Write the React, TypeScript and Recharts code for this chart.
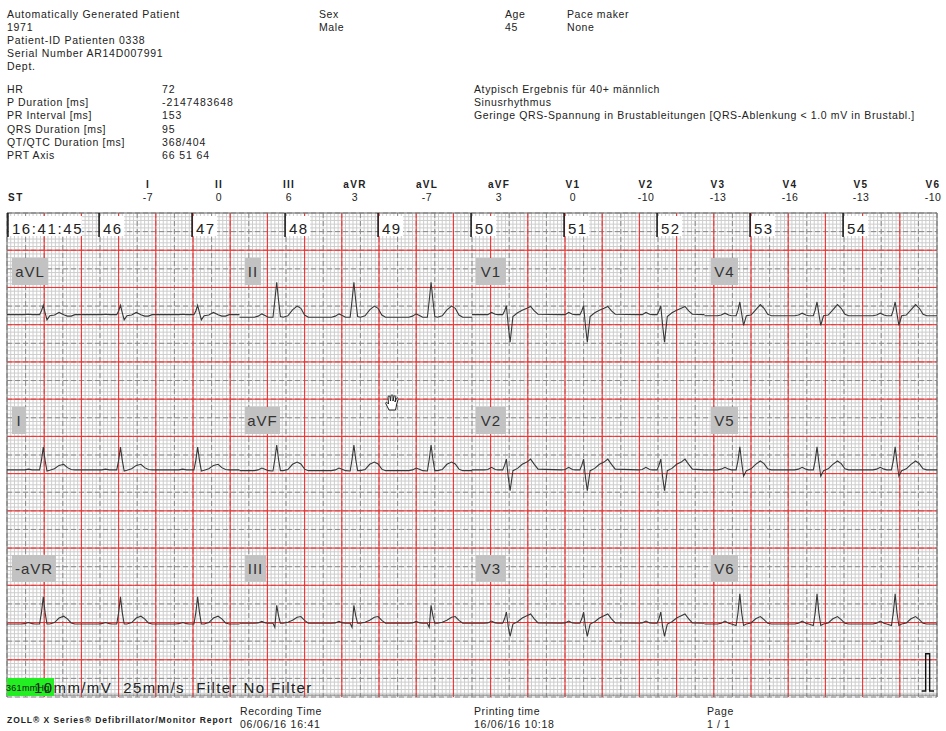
import { LineChart, Line, XAxis, YAxis, CartesianGrid } from "recharts";

// sample offsets around each R peak, seconds
const beatOffsets = [-0.24, -0.2, -0.16, -0.12, -0.09, -0.04, -0.02, 0, 0.02, 0.04, 0.07, 0.12, 0.17, 0.22, 0.26, 0.3, 0.34];

const aVLBeat = [0, 0, 0.01, 0, 0, 0, 0.1, 0.25, 0.05, -0.14, -0.03, -0.01, 0.06, 0, -0.04, -0.04, 0];
const IIBeat = [0, 0.03, 0.09, 0.04, 0, 0, 0.45, 0.94, 0.45, 0.02, 0, 0.04, 0.2, 0.3, 0.24, 0.06, 0];
const V1Beat = [0, 0, 0.06, 0.01, 0, 0, 0.1, 0.24, -0.3, -0.74, -0.05, 0.05, 0.12, 0.17, 0.22, 0.1, 0.01];
const V4Beat = [0, 0.02, 0.07, 0.02, 0, 0, 0.15, 0.37, 0.05, -0.26, 0, 0.02, 0.16, 0.3, 0.2, 0.04, 0];
const IBeat = [0, 0, 0.02, 0, 0, 0, 0.25, 0.61, 0.25, -0.03, -0.01, 0.03, 0.12, 0.15, 0.06, 0.01, 0];
const aVFBeat = [0, 0.02, 0.07, 0.03, 0, -0.01, 0.3, 0.69, 0.3, 0, 0, 0.03, 0.17, 0.23, 0.18, 0.04, 0];
const V2Beat = [0, 0.01, 0.07, 0.01, 0, 0, 0.12, 0.29, -0.2, -0.56, -0.02, 0.04, 0.15, 0.21, 0.29, 0.15, 0.02];
const V5Beat = [0, 0.02, 0.07, 0.02, 0, 0, 0.25, 0.62, 0.2, -0.17, -0.02, 0.03, 0.15, 0.24, 0.17, 0.03, 0];
const minusAVRBeat = [0, 0.01, 0.04, 0.01, 0, 0, 0.3, 0.73, 0.3, 0, 0, 0.04, 0.16, 0.21, 0.14, 0.03, 0];
const IIIBeat = [0, 0.01, 0.05, 0.01, 0, 0, -0.11, 0.48, 0.2, 0, 0, 0.03, 0.08, 0.16, 0.18, 0.08, 0];
const V3Beat = [0, 0.01, 0.06, 0.01, 0, 0, 0.12, 0.3, -0.1, -0.35, -0.02, 0.04, 0.14, 0.2, 0.25, 0.12, 0.01];
const V6Beat = [0, 0.02, 0.08, 0.02, 0, -0.04, 0.3, 0.81, 0.3, -0.04, 0, 0.03, 0.14, 0.2, 0.12, 0.02, 0];

// R peak times per column, seconds from strip start
const column1Beats = [0.39, 1.22, 2.05];
const column2Beats = [2.9, 3.73, 4.56];
const column3Beats = [5.37, 6.2, 7.03];
const column4Beats = [7.88, 8.71, 9.55];
const columnStarts = [0, 2.5, 5, 7.5, 10];

// isoelectric level of each lead on the page, mV above the strip bottom
const row1Levels = [10.27, 10.2, 10.27, 10.24];
const row2Levels = [6.1, 6.08, 6.1, 6.1];
const row3Levels = [1.96, 1.98, 1.98, 1.96];

// calibration pulse
const calTimes = [9.835, 9.878, 9.878, 9.921, 9.921, 9.968];
const calValues = [0.16, 0.16, 1.16, 1.16, 0.16, 0.16];

const secondTicks = [0.01, 0.99, 1.99, 2.99, 3.99, 4.99, 5.99, 6.99, 7.99, 8.99];
const secondLabels = ["16:41:45", "46", "47", "48", "49", "50", "51", "52", "53", "54"];

const stLeads = ["I", "II", "III", "aVR", "aVL", "aVF", "V1", "V2", "V3", "V4", "V5", "V6"];
const stValues = ["-7", "0", "6", "3", "-7", "3", "0", "-10", "-13", "-16", "-13", "-10"];
const stCenters = [148, 219, 289, 355, 427, 499, 573, 646, 718, 790, 861, 933];

const patientLines = [
  "Automatically Generated Patient",
  "1971",
  "Patient-ID Patienten 0338",
  "Serial Number AR14D007991",
  "Dept.",
];
const measureNames = ["HR", "P Duration [ms]", "PR Interval [ms]", "QRS Duration [ms]", "QT/QTC Duration [ms]", "PRT Axis"];
const measureValues = ["72", "-2147483648", "153", "95", "368/404", "66 51 64"];
const findings = [
  "Atypisch Ergebnis für 40+ männlich",
  "Sinusrhythmus",
  "Geringe QRS-Spannung in Brustableitungen [QRS-Ablenkung < 1.0 mV in Brustabl.]",
];

const leads = [
  { name: "aVL", beat: aVLBeat, times: column1Beats, col: 0, level: row1Levels[0], box: [12, 258, 36] },
  { name: "II", beat: IIBeat, times: column2Beats, col: 1, level: row1Levels[1], box: [245, 258, 16] },
  { name: "V1", beat: V1Beat, times: column3Beats, col: 2, level: row1Levels[2], box: [476, 258, 30] },
  { name: "V4", beat: V4Beat, times: column4Beats, col: 3, level: row1Levels[3], box: [711, 258, 27] },
  { name: "I", beat: IBeat, times: column1Beats, col: 0, level: row2Levels[0], box: [12, 407, 14] },
  { name: "aVF", beat: aVFBeat, times: column2Beats, col: 1, level: row2Levels[1], box: [245, 407, 35] },
  { name: "V2", beat: V2Beat, times: column3Beats, col: 2, level: row2Levels[2], box: [476, 407, 30] },
  { name: "V5", beat: V5Beat, times: column4Beats, col: 3, level: row2Levels[3], box: [711, 407, 27] },
  { name: "-aVR", beat: minusAVRBeat, times: column1Beats, col: 0, level: row3Levels[0], box: [12, 555, 44] },
  { name: "III", beat: IIIBeat, times: column2Beats, col: 1, level: row3Levels[1], box: [245, 555, 21] },
  { name: "V3", beat: V3Beat, times: column3Beats, col: 2, level: row3Levels[2], box: [476, 555, 30] },
  { name: "V6", beat: V6Beat, times: column4Beats, col: 3, level: row3Levels[3], box: [711, 555, 27] },
];

function buildTrace(lead: (typeof leads)[number]) {
  const points = [{ t: columnStarts[lead.col], v: lead.level }];
  lead.times.forEach((rTime) => {
    beatOffsets.forEach((offset, i) => {
      points.push({ t: rTime + offset, v: lead.level + lead.beat[i] });
    });
  });
  points.push({ t: columnStarts[lead.col + 1], v: lead.level });
  return points;
}

const calTrace = calTimes.map((t, i) => ({ t, v: calValues[i] }));

// paper grid: 1 mm = 0.04 s = 0.1 mV
const steps = (count: number, size: number) => Array.from({ length: count + 1 }, (_, i) => +(i * size).toFixed(2));

// the default grid generators drop close ticks, so place the lines from the plot offset
const xGrid = (values: number[]) => ({ offset }: any) => values.map((v) => offset.left + (v / 10) * offset.width);
const yGrid = (values: number[]) => ({ offset }: any) => values.map((v) => offset.top + (1 - v / 13) * offset.height);

const arial = "'Liberation Sans', Arial, sans-serif";

function Txt({ x, y, children, style }: { x: number; y: number; children: React.ReactNode; style?: React.CSSProperties }) {
  return (
    <div
      style={{
        position: "absolute",
        left: x,
        top: y,
        fontFamily: arial,
        fontSize: 10.5,
        lineHeight: "13px",
        letterSpacing: 0.6,
        color: "#222",
        whiteSpace: "pre",
        ...style,
      }}
    >
      {children}
    </div>
  );
}

function SecondTick({ x, index }: any) {
  const label = secondLabels[index];
  const w = index === 0 ? 73 : 24;
  return (
    <g>
      <rect x={x + 1} y={216} width={w} height={20} fill="#fff" />
      <line x1={x} x2={x} y1={213} y2={237} stroke="#111" strokeWidth={1.5} />
      <text x={x + 4} y={234} fontFamily={arial} fontSize={15} letterSpacing={index === 0 ? 1.6 : 1.4} fill="#222">
        {label}
      </text>
    </g>
  );
}

function HandCursor() {
  return (
    <svg width={16} height={18} viewBox="0 0 16 18" style={{ position: "absolute", left: 384, top: 394 }}>
      <path
        d="M5 16 L2 10 C1 8 3 8 4 9.5 L4.5 10 L4 3 C4 1.5 6 1.5 6 3 L6.5 7 L7 1.8 C7 0.5 9 0.5 9 1.8 L9 7 L10 2.5 C10.2 1.3 12 1.5 11.8 3 L11 8 L12.5 4.5 C13 3.5 14.5 4 14 5.5 L12.5 11 C12 13 12 14.5 11.5 16 Z"
        fill="#fff"
        stroke="#222"
        strokeWidth={1}
      />
    </svg>
  );
}

export default function App() {
  return (
    <div style={{ position: "absolute", left: 0, top: 0, width: 946, height: 731, background: "#fff", overflow: "hidden" }}>
      {patientLines.map((line, i) => (
        <Txt key={line} x={7} y={8 + i * 13.1} style={{ letterSpacing: 0.72 }}>
          {line}
        </Txt>
      ))}
      <Txt x={319} y={8}>Sex</Txt>
      <Txt x={319} y={21}>Male</Txt>
      <Txt x={505} y={8}>Age</Txt>
      <Txt x={505} y={21}>45</Txt>
      <Txt x={567} y={8}>Pace maker</Txt>
      <Txt x={567} y={21}>None</Txt>

      {measureNames.map((name, i) => (
        <Txt key={name} x={7} y={83 + i * 13.2} style={{ letterSpacing: 0.65 }}>
          {name}
        </Txt>
      ))}
      {measureValues.map((value, i) => (
        <Txt key={value} x={162} y={83 + i * 13.2} style={{ letterSpacing: 0.9 }}>
          {value}
        </Txt>
      ))}
      {findings.map((line, i) => (
        <Txt key={line} x={474} y={83 + i * 13.2} style={{ letterSpacing: 0.62 }}>
          {line}
        </Txt>
      ))}

      <Txt x={8} y={191} style={{ fontWeight: 700, fontSize: 10, letterSpacing: 1.5 }}>ST</Txt>
      {stLeads.map((lead, i) => (
        <div key={lead} style={{ position: "absolute", left: stCenters[i] - 25, width: 50, top: 178, textAlign: "center" }}>
          <div style={{ fontFamily: arial, fontWeight: 700, fontSize: 10, lineHeight: "13px", letterSpacing: 1.3, color: "#222" }}>{lead}</div>
          <div style={{ fontFamily: arial, fontSize: 10.5, lineHeight: "13px", letterSpacing: 0.5, color: "#222" }}>{stValues[i]}</div>
        </div>
      ))}

      <div style={{ position: "absolute", left: 0, top: 0 }}>
        <LineChart width={946} height={731} margin={{ top: 213, right: 9, bottom: 34, left: 7 }}>
          <CartesianGrid
            stroke="#cdcdcd"
            strokeWidth={1}
            horizontalCoordinatesGenerator={yGrid(steps(130, 0.1))}
            verticalCoordinatesGenerator={xGrid(steps(250, 0.04))}
          />
          <CartesianGrid
            stroke="#8a8a8a"
            strokeWidth={1}
            strokeDasharray="5 3"
            horizontalCoordinatesGenerator={yGrid(steps(26, 0.5))}
            verticalCoordinatesGenerator={xGrid(steps(50, 0.2))}
          />
          <CartesianGrid
            stroke="#ff2a2a"
            strokeWidth={1}
            horizontalCoordinatesGenerator={yGrid(steps(12, 1).slice(1))}
            verticalCoordinatesGenerator={xGrid(steps(25, 0.4).slice(1, -1))}
          />
          <CartesianGrid
            stroke="#777"
            strokeWidth={1}
            horizontalCoordinatesGenerator={yGrid([0.05, 13])}
            verticalCoordinatesGenerator={xGrid([0, 10])}
          />
          <XAxis
            xAxisId={0}
            dataKey="t"
            type="number"
            domain={[0, 10]}
            orientation="top"
            mirror
            ticks={secondTicks}
            interval={0}
            axisLine={false}
            tickLine={false}
            tick={<SecondTick />}
          />
          <YAxis dataKey="v" type="number" domain={[0, 13]} hide />
          {leads.map((lead) => (
            <Line
              key={lead.name}
              data={buildTrace(lead)}
              dataKey="v"
              type="linear"
              stroke="#383838"
              strokeWidth={1.1}
              dot={false}
              isAnimationActive={false}
            />
          ))}
          <Line data={calTrace} dataKey="v" type="linear" stroke="#111" strokeWidth={1.4} dot={false} isAnimationActive={false} />
        </LineChart>
      </div>

      {leads.map((lead) => (
        <div
          key={lead.name}
          style={{
            position: "absolute",
            left: lead.box[0],
            top: lead.box[1],
            width: lead.box[2],
            height: 27,
            background: "#c2c2c2",
            fontFamily: arial,
            fontSize: 15,
            lineHeight: "27px",
            letterSpacing: 1,
            textAlign: "center",
            color: "#333",
          }}
        >
          {lead.name}
        </div>
      ))}

      <HandCursor />

      <div style={{ position: "absolute", left: 7, top: 678, width: 47, height: 18, background: "#22ee22" }} />
      <Txt x={6} y={682} style={{ fontSize: 9, letterSpacing: 0.3, color: "#111" }}>361mmHg</Txt>
      <Txt x={34} y={679} style={{ fontSize: 15, lineHeight: "17px", letterSpacing: 1.4 }}>
        10mm/mV  25mm/s  Filter No Filter
      </Txt>

      <Txt x={7} y={714} style={{ fontWeight: 700, fontSize: 8.5, letterSpacing: 0.95 }}>
        ZOLL® X Series® Defibrillator/Monitor Report
      </Txt>
      <Txt x={240} y={705}>Recording Time</Txt>
      <Txt x={240} y={718} style={{ letterSpacing: 0.75 }}>06/06/16 16:41</Txt>
      <Txt x={474} y={705}>Printing time</Txt>
      <Txt x={474} y={718} style={{ letterSpacing: 0.75 }}>16/06/16 10:18</Txt>
      <Txt x={707} y={705}>Page</Txt>
      <Txt x={707} y={718}>1 / 1</Txt>
    </div>
  );
}
